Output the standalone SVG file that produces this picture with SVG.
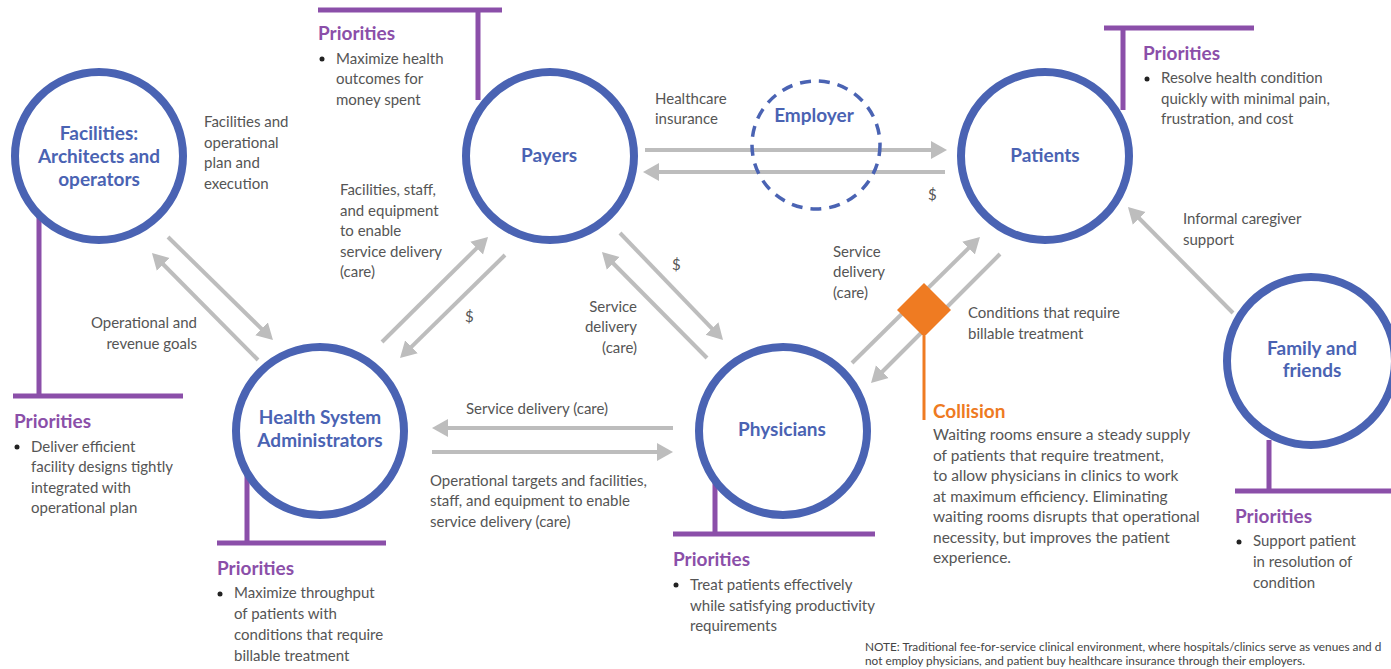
<svg xmlns="http://www.w3.org/2000/svg" width="1391" height="669" viewBox="0 0 1391 669">
<style>
text{font-family:Lato,"Open Sans","Liberation Sans",sans-serif;}
.t{font-size:15px;fill:#555555;}
.c{font-size:15.5px;fill:#555555;}
.lab{font-size:19px;font-weight:bold;fill:#4a63b3;text-anchor:middle;}
.pri{font-size:19px;font-weight:bold;fill:#8b4fa9;}
.col{font-size:19px;font-weight:bold;fill:#ee7a22;}
.note{font-size:11.8px;fill:#444444;}
.node{fill:#ffffff;stroke:#4a63b3;stroke-width:8;}
.pl{stroke:#8b4fa9;stroke-width:5;fill:none;}
.ar{stroke:#bdbdbd;stroke-width:4;fill:none;marker-end:url(#ah);}
.r{text-anchor:end;}
</style>
<defs>
<marker id="ah" markerUnits="userSpaceOnUse" markerWidth="18" markerHeight="20" refX="4" refY="9" orient="auto" viewBox="0 0 18 18">
<path d="M0,0 L16,9 L0,18 z" fill="#bdbdbd"/>
</marker>
</defs>
<rect width="1391" height="669" fill="#ffffff"/>

<g id="priority-lines">
<path class="pl" d="M39,215 V396 M13,396 H183"/>
<path class="pl" d="M318,10 H502 M478,10 V100"/>
<path class="pl" d="M1104,28 H1254 M1123,28 V110"/>
<path class="pl" d="M247,470 V543 M217,543 H386"/>
<path class="pl" d="M715,480 V534 M673,534 H875"/>
<path class="pl" d="M1269,440 V491 M1235,491 H1391"/>
</g>

<g id="connectors">
<line class="ar" x1="168" y1="237" x2="264.4" y2="331.6"/>
<line class="ar" x1="258" y1="360" x2="160.4" y2="261.5"/>
<line class="ar" x1="382" y1="342" x2="479.5" y2="245.4"/>
<line class="ar" x1="505" y1="255" x2="408.6" y2="349.6"/>
<line class="ar" x1="620" y1="233" x2="714.7" y2="331.3"/>
<line class="ar" x1="707" y1="358" x2="610.4" y2="260.5"/>
<line class="ar" x1="852" y1="363" x2="971.4" y2="245.4"/>
<line class="ar" x1="1000" y1="254" x2="879.5" y2="374.5"/>
<line class="ar" x1="1233" y1="313" x2="1136.4" y2="215.5"/>
<line class="ar" x1="645" y1="150" x2="935" y2="150"/>
<line class="ar" x1="945" y1="172" x2="655" y2="172"/>
<line class="ar" x1="673" y1="428" x2="444" y2="428"/>
<line class="ar" x1="432" y1="452" x2="661" y2="452"/>
</g>

<g id="facilities">
<circle class="node" cx="99" cy="156" r="84"/>
<text class="lab" x="99" y="140">Facilities:</text>
<text class="lab" x="99" y="163">Architects and</text>
<text class="lab" x="99" y="186">operators</text>
<text class="pri" x="14" y="428">Priorities</text>
<circle cx="17" cy="447" r="2.5" fill="#222"/>
<text class="t" x="31" y="452">Deliver efficient</text>
<text class="t" x="31" y="472">facility designs tightly</text>
<text class="t" x="31" y="493">integrated with</text>
<text class="t" x="31" y="513">operational plan</text>
</g>

<g id="payers">
<circle class="node" cx="550" cy="156" r="84"/>
<text class="lab" x="549" y="162">Payers</text>
<text class="pri" x="318" y="40">Priorities</text>
<circle cx="322" cy="59" r="2.5" fill="#222"/>
<text class="t" x="336" y="64">Maximize health</text>
<text class="t" x="336" y="84">outcomes for</text>
<text class="t" x="336" y="105">money spent</text>
</g>

<g id="employer">
<circle cx="816" cy="145" r="64" fill="none" stroke="#4a63b3" stroke-width="3.5" stroke-dasharray="11 8"/>
<text class="lab" x="814" y="122">Employer</text>
</g>

<g id="patients">
<circle class="node" cx="1045" cy="156" r="84"/>
<text class="lab" x="1045" y="162">Patients</text>
<text class="pri" x="1143" y="60">Priorities</text>
<circle cx="1147" cy="79" r="2.5" fill="#222"/>
<text class="t" x="1161" y="83">Resolve health condition</text>
<text class="t" x="1161" y="104">quickly with minimal pain,</text>
<text class="t" x="1161" y="124">frustration, and cost</text>
</g>

<g id="health-system-administrators">
<circle class="node" cx="320" cy="431" r="84"/>
<text class="lab" x="320" y="424">Health System</text>
<text class="lab" x="320" y="447">Administrators</text>
<text class="pri" x="217" y="575">Priorities</text>
<circle cx="220" cy="594" r="2.5" fill="#222"/>
<text class="t" x="234" y="598">Maximize throughput</text>
<text class="t" x="234" y="619">of patients with</text>
<text class="t" x="234" y="640">conditions that require</text>
<text class="t" x="234" y="661">billable treatment</text>
</g>

<g id="physicians">
<circle class="node" cx="783" cy="431" r="84"/>
<text class="lab" x="782" y="436">Physicians</text>
<text class="pri" x="673" y="566">Priorities</text>
<circle cx="676" cy="585" r="2.5" fill="#222"/>
<text class="t" x="690" y="590">Treat patients effectively</text>
<text class="t" x="690" y="611">while satisfying productivity</text>
<text class="t" x="690" y="631">requirements</text>
</g>

<g id="family">
<circle class="node" cx="1311" cy="361" r="84"/>
<text class="lab" x="1312" y="355">Family and</text>
<text class="lab" x="1312" y="377">friends</text>
<text class="pri" x="1235" y="523">Priorities</text>
<circle cx="1239" cy="542" r="2.5" fill="#222"/>
<text class="t" x="1253" y="546">Support patient</text>
<text class="t" x="1253" y="567">in resolution of</text>
<text class="t" x="1253" y="588">condition</text>
</g>

<g id="collision">
<polygon points="924,283 951,310 924,337 897,310" fill="#ef7b22"/>
<line x1="924" y1="336" x2="924" y2="420" stroke="#ef7b22" stroke-width="3"/>
<text class="col" x="933" y="418">Collision</text>
<text class="c" x="933" y="440">Waiting rooms ensure a steady supply</text>
<text class="c" x="933" y="461">of patients that require treatment,</text>
<text class="c" x="933" y="481">to allow physicians in clinics to work</text>
<text class="c" x="933" y="502">at maximum efficiency.  Eliminating</text>
<text class="c" x="933" y="522">waiting rooms disrupts that operational</text>
<text class="c" x="933" y="543">necessity, but improves the patient</text>
<text class="c" x="933" y="563">experience.</text>
</g>

<g id="connector-labels">
<text class="t" x="204" y="127">Facilities and</text>
<text class="t" x="204" y="148">operational</text>
<text class="t" x="204" y="168">plan and</text>
<text class="t" x="204" y="189">execution</text>
<text class="t r" x="197" y="328">Operational and</text>
<text class="t r" x="197" y="349">revenue goals</text>
<text class="t" x="340" y="195">Facilities, staff,</text>
<text class="t" x="340" y="216">and equipment</text>
<text class="t" x="340" y="236">to enable</text>
<text class="t" x="340" y="257">service delivery</text>
<text class="t" x="340" y="277">(care)</text>
<text class="t" x="465" y="322">$</text>
<text class="t" x="655" y="104">Healthcare</text>
<text class="t" x="655" y="124">insurance</text>
<text class="t" x="928" y="200">$</text>
<text class="t" x="672" y="270">$</text>
<text class="t r" x="637" y="312">Service</text>
<text class="t r" x="637" y="332">delivery</text>
<text class="t r" x="637" y="353">(care)</text>
<text class="t" x="833" y="257">Service</text>
<text class="t" x="833" y="277">delivery</text>
<text class="t" x="833" y="298">(care)</text>
<text class="t" x="968" y="318">Conditions that require</text>
<text class="t" x="968" y="339">billable treatment</text>
<text class="t" x="1183" y="224">Informal caregiver</text>
<text class="t" x="1183" y="245">support</text>
<text class="t" x="466" y="414">Service delivery (care)</text>
<text class="t" x="430" y="486">Operational targets and facilities,</text>
<text class="t" x="430" y="506">staff, and equipment to enable</text>
<text class="t" x="430" y="527">service delivery (care)</text>
</g>

<g id="note">
<text class="note" x="865" y="651">NOTE: Traditional fee-for-service clinical environment, where hospitals/clinics serve as venues and d</text>
<text class="note" x="865" y="665">not employ physicians, and patient buy healthcare insurance through their employers.</text>
</g>
</svg>
